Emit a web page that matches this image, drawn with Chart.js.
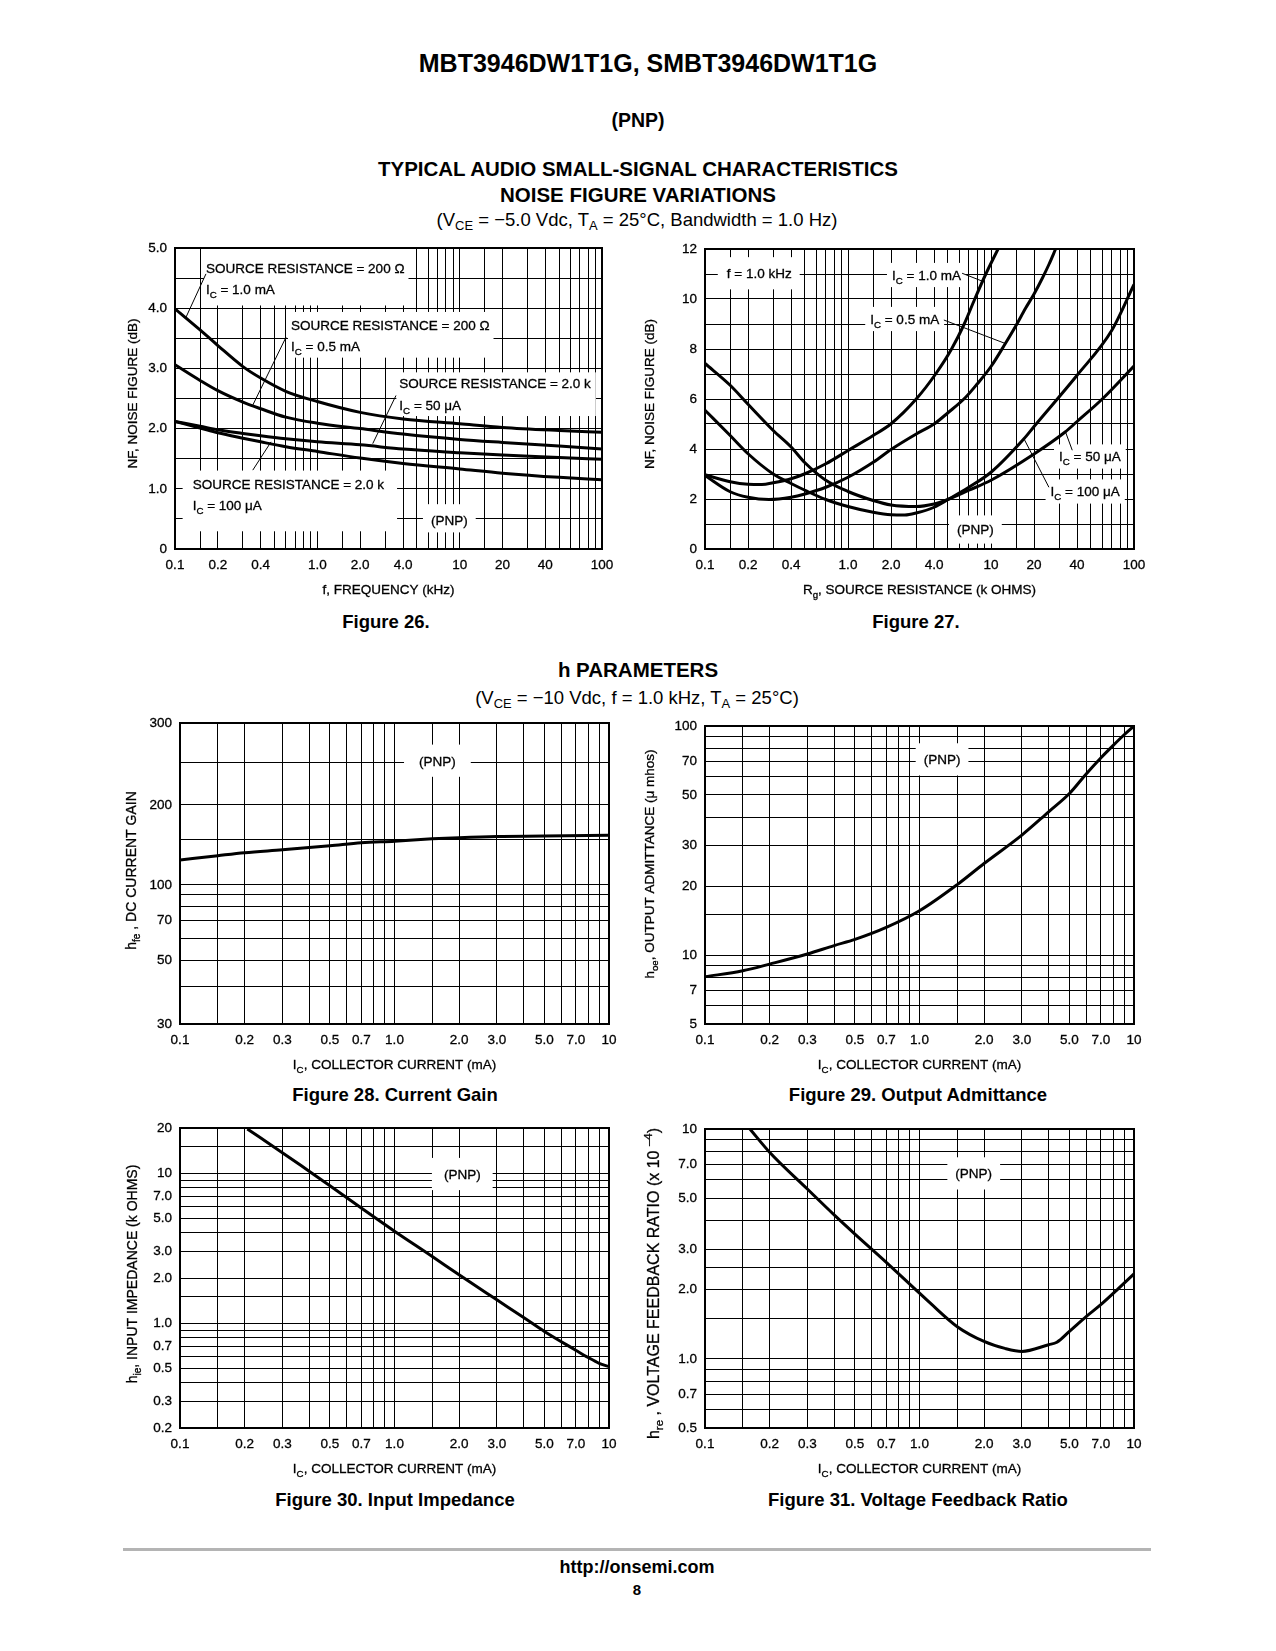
<!DOCTYPE html>
<html>
<head>
<meta charset="utf-8">
<title>MBT3946DW1T1G PNP typical characteristics</title>
<script src="https://cdn.jsdelivr.net/npm/chart.js@4.4.1/dist/chart.umd.min.js"></script>
<style>
  html, body { margin: 0; background: #fff; }
  #page { position: relative; width: 1276px; height: 1651px; overflow: hidden; color: #000;
          font-family: "Liberation Sans", Arial, Helvetica, sans-serif; }
  .txt { position: absolute; white-space: nowrap; line-height: 1; text-align: center; }
  .bold { font-weight: bold; }
  .txt sub { font-size: 70%; vertical-align: -0.3em; line-height: 0; }
  canvas { position: absolute; }
  #rule { position: absolute; left: 123px; top: 1548px; width: 1028px; height: 3px; background: #b4b4b4; }
</style>
</head>
<body>
<div id="page">
  <div class="txt bold" style="left:248px;width:800px;top:50.5px;font-size:25px">MBT3946DW1T1G, SMBT3946DW1T1G</div>
  <div class="txt bold" style="left:238px;width:800px;top:111px;font-size:19.5px">(PNP)</div>
  <div class="txt bold" style="left:238px;width:800px;top:159px;font-size:20.5px">TYPICAL AUDIO SMALL-SIGNAL CHARACTERISTICS</div>
  <div class="txt bold" style="left:238px;width:800px;top:185px;font-size:20.5px">NOISE FIGURE VARIATIONS</div>
  <div class="txt" style="left:237px;width:800px;top:211px;font-size:18.5px">(V<sub>CE</sub> = &minus;5.0 Vdc, T<sub>A</sub> = 25&deg;C, Bandwidth = 1.0 Hz)</div>

  <div class="txt bold" style="left:186px;width:400px;top:613px;font-size:18.5px">Figure 26.</div>
  <div class="txt bold" style="left:716px;width:400px;top:613px;font-size:18.5px">Figure 27.</div>

  <div class="txt bold" style="left:238px;width:800px;top:660px;font-size:20.5px">h PARAMETERS</div>
  <div class="txt" style="left:237px;width:800px;top:689px;font-size:18.5px">(V<sub>CE</sub> = &minus;10 Vdc, f = 1.0 kHz, T<sub>A</sub> = 25&deg;C)</div>

  <div class="txt bold" style="left:195px;width:400px;top:1086px;font-size:18.5px">Figure 28. Current Gain</div>
  <div class="txt bold" style="left:718px;width:400px;top:1086px;font-size:18.5px">Figure 29. Output Admittance</div>
  <div class="txt bold" style="left:195px;width:400px;top:1491px;font-size:18.5px">Figure 30. Input Impedance</div>
  <div class="txt bold" style="left:718px;width:400px;top:1491px;font-size:18.5px">Figure 31. Voltage Feedback Ratio</div>

  <div id="rule"></div>
  <div class="txt bold" style="left:237px;width:800px;top:1557.5px;font-size:18px">http://onsemi.com</div>
  <div class="txt bold" style="left:237px;width:800px;top:1581.5px;font-size:15px">8</div>

  <canvas id="fig26"></canvas>
  <canvas id="fig27"></canvas>
  <canvas id="fig28"></canvas>
  <canvas id="fig29"></canvas>
  <canvas id="fig30"></canvas>
  <canvas id="fig31"></canvas>
</div>

<script>
const FONT = '"Liberation Sans", Arial, Helvetica, sans-serif';
const TEXT_STROKE = 0.3;

// Figure 26 - noise figure vs frequency
const freqKHz = [0.1, 0.15, 0.2, 0.3, 0.4, 0.6, 1, 2, 4, 10, 20, 50, 100];
const nfRs200Ic1mA = [3.99, 3.64, 3.38, 3.03, 2.84, 2.62, 2.45, 2.27, 2.16, 2.08, 2.02, 1.97, 1.94];
const nfRs200Ic05mA = [3.06, 2.80, 2.63, 2.44, 2.33, 2.19, 2.09, 2.00, 1.91, 1.82, 1.77, 1.71, 1.66];
const nfRs2kIc50uA = [2.12, 2.04, 1.98, 1.92, 1.88, 1.83, 1.78, 1.73, 1.66, 1.60, 1.56, 1.52, 1.49];
const nfRs2kIc100uA = [2.12, 2.01, 1.93, 1.84, 1.78, 1.70, 1.62, 1.51, 1.42, 1.33, 1.26, 1.19, 1.15];

// Figure 27 - noise figure vs source resistance (f = 1 kHz)
const rgIc1mA = [0.1, 0.15, 0.2, 0.25, 0.3, 0.4, 0.5, 0.7, 1, 1.5, 2, 3, 4.1, 5.3, 6.5, 7.7, 9.2, 11.2];
const nfIc1mA = [2.97, 2.69, 2.59, 2.58, 2.65, 2.81, 3.01, 3.41, 3.94, 4.54, 5.01, 6.0, 7.0, 8.0, 9.0, 10.0, 11.0, 12.0];
const rgIc05mA = [0.1, 0.15, 0.2, 0.28, 0.4, 0.5, 0.7, 1, 1.5, 2, 3, 4, 5, 6.6, 8, 10, 12.6, 15, 17.4, 20, 22.8, 25.5, 28.3];
const nfIc05mA = [2.94, 2.29, 2.07, 1.98, 2.07, 2.20, 2.47, 2.87, 3.47, 3.98, 4.6, 5.0, 5.45, 6.05, 6.6, 7.3, 8.22, 8.95, 9.62, 10.2, 10.82, 11.4, 12.0];
const rgIc50uA = [0.1, 0.15, 0.2, 0.3, 0.4, 0.5, 0.7, 1, 1.5, 2, 3, 4, 5, 7, 10, 20, 33, 40, 60, 100];
const nfIc50uA = [7.42, 6.55, 5.79, 4.74, 4.08, 3.45, 2.75, 2.30, 1.94, 1.76, 1.70, 1.80, 1.98, 2.35, 2.75, 3.8, 4.68, 5.1, 6.0, 7.32];
const rgIc100uA = [0.1, 0.15, 0.2, 0.3, 0.4, 0.5, 0.7, 1, 1.5, 2, 2.5, 3, 4, 5, 7, 10, 17, 20, 40, 70, 100];
const nfIc100uA = [5.55, 4.54, 3.81, 3.0, 2.62, 2.35, 1.98, 1.70, 1.47, 1.37, 1.36, 1.44, 1.67, 1.98, 2.47, 3.07, 4.41, 4.9, 6.95, 8.75, 10.58];

// Figures 28-31 - h parameters vs collector current
const icGain = [0.1, 0.15, 0.2, 0.3, 0.5, 0.7, 1, 1.5, 2, 3, 5, 10];
const hfe = [125, 130, 133.5, 137, 142, 146, 148, 151, 152.5, 154, 154.5, 155.5];
const icHoe = [0.1, 0.15, 0.2, 0.3, 0.4, 0.5, 0.7, 1, 1.5, 2, 3, 4, 5, 6, 7, 8, 9, 10];
const hoe = [8.04, 8.54, 9.13, 10.1, 11.0, 11.7, 13.2, 15.6, 20.3, 25.1, 33.4, 42.2, 50.7, 61.9, 72.5, 82.3, 91.6, 100];
const icHie = [0.206, 0.3, 0.4, 0.5, 0.7, 1, 1.5, 2, 3, 4, 5, 7, 8, 9, 10];
const hie = [19.7, 13.7, 10.3, 8.25, 5.85, 4.1, 2.78, 2.1, 1.43, 1.09, 0.88, 0.66, 0.59, 0.54, 0.513];
const icHre = [0.162, 0.2, 0.3, 0.4, 0.5, 0.7, 1, 1.12, 1.5, 2, 2.5, 3, 4, 4.37, 5, 6, 7, 8.5, 10];
const hre = [10, 7.92, 5.48, 4.23, 3.49, 2.63, 1.93, 1.75, 1.38, 1.19, 1.11, 1.077, 1.152, 1.18, 1.316, 1.53, 1.72, 2.03, 2.34];

// axis grids and tick labels
const decadeGrid = [0.1, 0.15, 0.2, 0.3, 0.4, 0.5, 0.6, 0.7, 0.8, 0.9, 1, 1.5, 2, 3, 4, 5, 6, 7, 8, 9, 10, 15, 20, 30, 40, 50, 60, 70, 80, 90, 100];
const decadeTicks = [0.1, 0.2, 0.4, 1, 2, 4, 10, 20, 40, 100];
const decadeText = ['0.1', '0.2', '0.4', '1.0', '2.0', '4.0', '10', '20', '40', '100'];
const nf26Grid = [0, 0.5, 1, 1.5, 2, 2.5, 3, 3.5, 4, 4.5, 5];
const nf26Ticks = [0, 1, 2, 3, 4, 5];
const nf26Text = ['0', '1.0', '2.0', '3.0', '4.0', '5.0'];
const nf27Grid = [0, 1, 2, 3, 4, 5, 6, 7, 8, 9, 10, 11, 12];
const nf27Ticks = [0, 2, 4, 6, 8, 10, 12];
const nf27Text = ['0', '2', '4', '6', '8', '10', '12'];
const icGrid = [0.1, 0.15, 0.2, 0.3, 0.4, 0.5, 0.6, 0.7, 0.8, 0.9, 1, 1.5, 2, 3, 4, 5, 6, 7, 8, 9, 10];
const icTicks = [0.1, 0.2, 0.3, 0.5, 0.7, 1, 2, 3, 5, 7, 10];
const icText = ['0.1', '0.2', '0.3', '0.5', '0.7', '1.0', '2.0', '3.0', '5.0', '7.0', '10'];
const gainGrid = [30, 40, 50, 60, 70, 80, 90, 100, 150, 200, 250, 300];
const gainTicks = [30, 50, 70, 100, 200, 300];
const gainText = ['30', '50', '70', '100', '200', '300'];
// the printed gain axis is not a clean log scale: value -> fraction of height
const gainAxisStops = [[30, 0], [40, 0.1251], [50, 0.2126], [60, 0.2857], [70, 0.3455], [80, 0.3898],
  [90, 0.4286], [100, 0.4618], [150, 0.6124], [200, 0.7276], [250, 0.8693], [300, 1]];
const hoeGrid = [5, 6, 7, 8, 9, 10, 15, 20, 30, 40, 50, 60, 70, 80, 90, 100];
const hoeTicks = [5, 7, 10, 20, 30, 50, 70, 100];
const hoeText = ['5', '7', '10', '20', '30', '50', '70', '100'];
const hieGrid = [0.2, 0.3, 0.4, 0.5, 0.6, 0.7, 0.8, 0.9, 1, 1.5, 2, 3, 4, 5, 6, 7, 8, 9, 10, 15, 20];
const hieTicks = [0.2, 0.3, 0.5, 0.7, 1, 2, 3, 5, 7, 10, 20];
const hieText = ['0.2', '0.3', '0.5', '0.7', '1.0', '2.0', '3.0', '5.0', '7.0', '10', '20'];
const hreGrid = [0.5, 0.6, 0.7, 0.8, 0.9, 1, 1.5, 2, 2.5, 3, 4, 5, 6, 7, 8, 9, 10];
const hreTicks = [0.5, 0.7, 1, 2, 3, 5, 7, 10];
const hreText = ['0.5', '0.7', '1.0', '2.0', '3.0', '5.0', '7.0', '10'];

class WarpScale extends Chart.Scale {
  static id = 'warp';
  static defaults = {};
  determineDataLimits() {
    const s = this.options.stops;
    this.min = s[0][0];
    this.max = s[s.length - 1][0];
  }
  buildTicks() {
    return this.options.stops.map(s => ({ value: s[0] }));
  }
  getLabelForValue(v) { return String(v); }
  warp(v) {
    const s = this.options.stops;
    let i = 1;
    while (i < s.length - 1 && v > s[i][0]) i++;
    const [v0, f0] = s[i - 1], [v1, f1] = s[i];
    return f0 + (f1 - f0) * Math.log(v / v0) / Math.log(v1 / v0);
  }
  getPixelForValue(v) { return this.getPixelForDecimal(this.warp(v)); }
  getValueForPixel(p) {
    const d = this.getDecimalForPixel(p), s = this.options.stops;
    let i = 1;
    while (i < s.length - 1 && d > s[i][1]) i++;
    const [v0, f0] = s[i - 1], [v1, f1] = s[i];
    return v0 * Math.pow(v1 / v0, (d - f0) / (f1 - f0));
  }
}
Chart.register(WarpScale);

// text with _{sub} and ^{sup} parts
function richParts(str) {
  const parts = [], re = /([_^])\{([^}]*)\}/g;
  let last = 0, m;
  while ((m = re.exec(str))) {
    if (m.index > last) parts.push({ t: str.slice(last, m.index), k: 0 });
    parts.push({ t: m[2], k: m[1] === '_' ? -1 : 1 });
    last = re.lastIndex;
  }
  if (last < str.length) parts.push({ t: str.slice(last), k: 0 });
  return parts;
}
function richWidth(ctx, str, size) {
  let w = 0;
  for (const p of richParts(str)) {
    ctx.font = (p.k ? size * 0.72 : size) + 'px ' + FONT;
    w += ctx.measureText(p.t).width;
  }
  return w;
}
function drawRich(ctx, str, x, y, size, align) {
  const w = richWidth(ctx, str, size);
  let cx = align === 'center' ? x - w / 2 : x;
  const base = y + size * 0.36;
  ctx.textAlign = 'left';
  ctx.textBaseline = 'alphabetic';
  ctx.strokeStyle = '#000';
  ctx.lineWidth = TEXT_STROKE;
  for (const p of richParts(str)) {
    ctx.font = (p.k ? size * 0.72 : size) + 'px ' + FONT;
    const dy = p.k < 0 ? size * 0.28 : p.k > 0 ? -size * 0.42 : 0;
    ctx.strokeText(p.t, cx, base + dy);
    ctx.fillText(p.t, cx, base + dy);
    cx += ctx.measureText(p.t).width;
  }
}

const NOTE_SIZE = 13.5, NOTE_GAP = 21.5;
function drawNotes(chart, notes) {
  const { ctx, chartArea: a } = chart;
  const xs = chart.scales.x, ys = chart.scales.y;
  ctx.save();
  ctx.beginPath();
  ctx.rect(a.left, a.top, a.right - a.left, a.bottom - a.top);
  ctx.clip();
  const boxes = notes.map(n => {
    const px = xs.getPixelForValue(n.x), py = ys.getPixelForValue(n.y);
    const w = Math.max(...n.lines.map(l => richWidth(ctx, l, NOTE_SIZE)));
    return { n, py, w, left: n.center ? px - w / 2 : px };
  });
  ctx.fillStyle = '#fff';
  for (const b of boxes) {
    const [pl, pt, pr, pb] = b.n.pad || [5, 4, 5, 4];
    const top = b.py - NOTE_SIZE * 0.6;
    const h = (b.n.lines.length - 1) * NOTE_GAP + NOTE_SIZE * 1.2;
    ctx.fillRect(b.left - pl, top - pt, b.w + pl + pr, h + pt + pb);
  }
  ctx.strokeStyle = '#000';
  ctx.lineWidth = 1;
  for (const b of boxes) {
    if (!b.n.leader) continue;
    const [[x1, y1], [x2, y2]] = b.n.leader;
    ctx.beginPath();
    ctx.moveTo(xs.getPixelForValue(x1), ys.getPixelForValue(y1));
    ctx.lineTo(xs.getPixelForValue(x2), ys.getPixelForValue(y2));
    ctx.stroke();
  }
  ctx.fillStyle = '#000';
  for (const b of boxes) {
    b.n.lines.forEach((l, i) => drawRich(ctx, l, b.left, b.py + i * NOTE_GAP, NOTE_SIZE, 'left'));
  }
  ctx.restore();
}

function tickText(values, texts) {
  return v => {
    const i = values.findIndex(t => Math.abs(t - v) < 1e-9 * Math.max(1, t));
    return i < 0 ? '' : texts[i];
  };
}
function axis(type, min, max, grid, ticks, texts, isX, extra) {
  return Object.assign({
    type, min, max,
    position: isX ? 'bottom' : 'left',
    afterBuildTicks: s => { s.ticks = grid.map(v => ({ value: v })); },
    afterFit: s => { if (isX) s.height = 26; else s.width = 44; },
    ticks: {
      autoSkip: false, maxRotation: 0, minRotation: 0, padding: 8,
      color: '#000', font: { family: FONT, size: 13.5 },
      textStrokeColor: '#000', textStrokeWidth: TEXT_STROKE,
      callback: tickText(ticks, texts)
    },
    grid: { color: '#000', lineWidth: 1, drawTicks: false },
    border: { display: false }
  }, extra || {});
}
const pts = (xs, ys) => xs.map((x, i) => ({ x, y: ys[i] }));

function makeChart(id, box, spec) {
  const canvas = document.getElementById(id);
  canvas.width = 700;
  canvas.height = 460;
  const decor = {
    id: 'decor',
    beforeDatasetsDraw(chart) { drawNotes(chart, spec.notes); },
    afterDatasetsDraw(chart) {
      const { ctx, chartArea: a } = chart;
      ctx.save();
      ctx.strokeStyle = '#000';
      ctx.lineWidth = 2;
      ctx.strokeRect(a.left, a.top, a.right - a.left, a.bottom - a.top);
      ctx.restore();
    },
    afterDraw(chart) {
      const { ctx, chartArea: a } = chart;
      ctx.save();
      ctx.fillStyle = '#000';
      drawRich(ctx, spec.xTitle, (a.left + a.right) / 2, a.bottom + 40, 13.5, 'center');
      ctx.translate(a.left - spec.yOff, (a.top + a.bottom) / 2 + (spec.yShift || 0));
      ctx.rotate(-Math.PI / 2);
      drawRich(ctx, spec.yTitle, 0, 0, spec.ySize || 13.5, 'center');
      ctx.restore();
    }
  };
  const chart = new Chart(canvas, {
    type: 'line',
    data: {
      datasets: spec.series.map(d => ({
        data: d, borderColor: '#000', borderWidth: 3, pointRadius: 0,
        fill: false, cubicInterpolationMode: 'monotone'
      }))
    },
    options: {
      responsive: false, maintainAspectRatio: false, animation: false, devicePixelRatio: 1,
      layout: { padding: { left: 40, right: 24, top: 22, bottom: 34 } },
      plugins: { legend: { display: false }, tooltip: { enabled: false } },
      scales: { x: spec.x, y: spec.y }
    },
    plugins: [decor]
  });
  // size the canvas so the plot area lands on the reference frame
  const a = chart.chartArea;
  const ml = Math.round(a.left), mt = Math.round(a.top);
  const mr = Math.round(chart.width - a.right), mb = Math.round(chart.height - a.bottom);
  chart.resize(box.w + ml + mr, box.h + mt + mb);
  chart.update('none');
  canvas.style.left = (box.x - ml) + 'px';
  canvas.style.top = (box.y - mt) + 'px';
  return chart;
}

makeChart('fig26', { x: 175, y: 248, w: 427, h: 301 }, {
  series: [pts(freqKHz, nfRs200Ic1mA), pts(freqKHz, nfRs200Ic05mA), pts(freqKHz, nfRs2kIc50uA), pts(freqKHz, nfRs2kIc100uA)],
  x: axis('logarithmic', 0.1, 100, decadeGrid, decadeTicks, decadeText, true),
  y: axis('linear', 0, 5, nf26Grid, nf26Ticks, nf26Text, false),
  xTitle: 'f, FREQUENCY (kHz)', yTitle: 'NF, NOISE FIGURE (dB)', yOff: 43, yShift: -5,
  notes: [
    { x: 0.165, y: 4.67, lines: ['SOURCE RESISTANCE = 200 Ω', 'I_{C} = 1.0 mA'], pad: [2, 12, 4, 8], leader: [[0.165, 4.57], [0.1195, 3.85]] },
    { x: 0.653, y: 3.72, lines: ['SOURCE RESISTANCE = 200 Ω', 'I_{C} = 0.5 mA'], pad: [3, 5, 4, 3], leader: [[0.603, 3.52], [0.352, 2.39]] },
    { x: 3.77, y: 2.75, lines: ['SOURCE RESISTANCE = 2.0 k', 'I_{C} = 50 μA'], pad: [3, 3, 5, 3], leader: [[3.57, 2.55], [2.45, 1.75]] },
    { x: 0.133, y: 1.085, lines: ['SOURCE RESISTANCE = 2.0 k', 'I_{C} = 100 μA'], pad: [10, 5, 13, 18], leader: [[0.352, 1.31], [0.473, 1.78]] },
    { x: 8.46, y: 0.477, lines: ['(PNP)'], center: true, pad: [8, 8, 8, 4] }
  ]
});

makeChart('fig27', { x: 705, y: 249, w: 429, h: 300 }, {
  series: [pts(rgIc1mA, nfIc1mA), pts(rgIc05mA, nfIc05mA), pts(rgIc50uA, nfIc50uA), pts(rgIc100uA, nfIc100uA)],
  x: axis('logarithmic', 0.1, 100, decadeGrid, decadeTicks, decadeText, true),
  y: axis('linear', 0, 12, nf27Grid, nf27Ticks, nf27Text, false),
  xTitle: 'R_{g}, SOURCE RESISTANCE (k OHMS)', yTitle: 'NF, NOISE FIGURE (dB)', yOff: 56, yShift: -5,
  notes: [
    { x: 0.142, y: 11.03, lines: ['f = 1.0 kHz'], pad: [9, 8, 8, 8] },
    { x: 2.03, y: 10.96, lines: ['I_{C} = 1.0 mA'], leader: [[6.28, 11.03], [8.91, 10.69]] },
    { x: 1.43, y: 9.20, lines: ['I_{C} = 0.5 mA'], leader: [[4.68, 9.16], [12.6, 8.22]] },
    { x: 29.9, y: 3.70, lines: ['I_{C} = 50 μA'], leader: [[37, 3.95], [33.2, 4.68]] },
    { x: 26.1, y: 2.30, lines: ['I_{C} = 100 μA'], leader: [[25.4, 2.47], [17.0, 4.41]] },
    { x: 7.78, y: 0.78, lines: ['(PNP)'], center: true, pad: [8, 6, 8, 6] }
  ]
});

makeChart('fig28', { x: 180, y: 723, w: 429, h: 301 }, {
  series: [pts(icGain, hfe)],
  x: axis('logarithmic', 0.1, 10, icGrid, icTicks, icText, true),
  y: axis('warp', 30, 300, gainGrid, gainTicks, gainText, false, { stops: gainAxisStops }),
  xTitle: 'I_{C}, COLLECTOR CURRENT (mA)', yTitle: 'h_{fe} , DC CURRENT GAIN', yOff: 49, yShift: -3, ySize: 14,
  notes: [{ x: 1.585, y: 251.9, lines: ['(PNP)'], center: true, pad: [15, 8, 15, 8] }]
});

makeChart('fig29', { x: 705, y: 726, w: 429, h: 298 }, {
  series: [pts(icHoe, hoe)],
  x: axis('logarithmic', 0.1, 10, icGrid, icTicks, icText, true),
  y: axis('logarithmic', 5, 100, hoeGrid, hoeTicks, hoeText, false),
  xTitle: 'I_{C}, COLLECTOR CURRENT (mA)', yTitle: 'h_{oe}, OUTPUT ADMITTANCE (μ mhos)', yOff: 56, yShift: -11,
  notes: [{ x: 1.274, y: 71.5, lines: ['(PNP)'], center: true, pad: [8, 8, 8, 8] }]
});

makeChart('fig30', { x: 180, y: 1128, w: 429, h: 300 }, {
  series: [pts(icHie, hie)],
  x: axis('logarithmic', 0.1, 10, icGrid, icTicks, icText, true),
  y: axis('logarithmic', 0.2, 20, hieGrid, hieTicks, hieText, false),
  xTitle: 'I_{C}, COLLECTOR CURRENT (mA)', yTitle: 'h_{ie}, INPUT IMPEDANCE (k OHMS)', yOff: 48, yShift: -4, ySize: 14,
  notes: [{ x: 2.07, y: 9.87, lines: ['(PNP)'], center: true, pad: [12, 8, 12, 8] }]
});

makeChart('fig31', { x: 705, y: 1129, w: 429, h: 299 }, {
  series: [pts(icHre, hre)],
  x: axis('logarithmic', 0.1, 10, icGrid, icTicks, icText, true),
  y: axis('logarithmic', 0.5, 10, hreGrid, hreTicks, hreText, false),
  xTitle: 'I_{C}, COLLECTOR CURRENT (mA)', yTitle: 'h_{re} , VOLTAGE FEEDBACK RATIO (x 10 ^{–4})', yOff: 52, yShift: 5, ySize: 16,
  notes: [{ x: 1.79, y: 6.41, lines: ['(PNP)'], center: true, pad: [8, 8, 8, 8] }]
});
</script>
</body>
</html>
